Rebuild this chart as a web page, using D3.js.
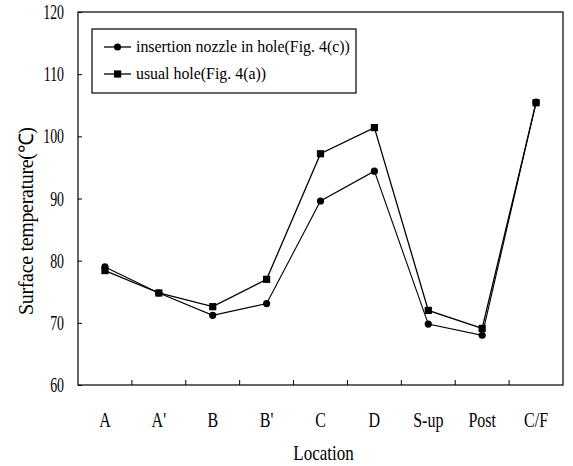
<!DOCTYPE html>
<html><head><meta charset="utf-8">
<script src="https://cdn.jsdelivr.net/npm/d3@7"></script>
<style>body{margin:0;background:#fff}</style>
</head><body>
<svg id="c" width="573" height="466"></svg>
<script>
const categories = ["A","A'","B","B'","C","D","S-up","Post","C/F"];
const insertionNozzle = [79.0,74.8,71.2,73.1,89.6,94.4,69.8,68.0,105.5];
const usualHole = [78.4,74.8,72.6,77.0,97.2,101.4,72.0,69.1,105.4];
const yTicks = [60,70,80,90,100,110,120];
const seriesNames = ["insertion nozzle in hole(Fig. 4(c))","usual hole(Fig. 4(a))"];

const FONT = "Liberation Serif";
const svg = d3.select("#c");
const L=78, R=563, T=12, B=385;
const x = d3.scaleBand().domain(categories).range([L,R]);
const y = d3.scaleLinear().domain([60,120]).range([B,T]);

function txt(g, px, py, s, size, k, anchor){
  return g.append("text").attr("transform",`translate(${px},${py}) scale(${k},1)`)
    .attr("text-anchor",anchor||"start").attr("font-family",FONT).style("font-family",FONT)
    .attr("font-size",size).attr("fill","#000").text(s);
}

// frame
svg.append("rect").attr("x",L).attr("y",T).attr("width",R-L).attr("height",B-T)
  .attr("fill","none").attr("stroke","#000").attr("stroke-width",1.2);

// y ticks (inward)
const yAxis = svg.append("g").attr("transform",`translate(${L},0)`)
  .call(d3.axisLeft(y).tickValues(yTicks).tickSize(-4).tickFormat(""));
yAxis.select(".domain").remove();
yAxis.selectAll("line").attr("stroke","#000");
yTicks.forEach(v=>txt(svg, 64, y(v)+7, String(v), 21, 0.66, "end"));

// x ticks between categories (inward)
const bounds = categories.slice(1).map(c=>x(c));
svg.append("g").selectAll("line").data(bounds).join("line")
  .attr("x1",d=>d).attr("x2",d=>d).attr("y1",B).attr("y2",B-5).attr("stroke","#000");
const cx = d=>x(d)+x.bandwidth()/2;
categories.forEach(c=>txt(svg, cx(c), 427, c, 20, 0.8, "middle"));

txt(svg, (L+R)/2+3, 460, "Location", 20, 0.85, "middle");
svg.append("text").attr("transform",`translate(33,221) rotate(-90)`)
  .attr("text-anchor","middle").attr("font-family",FONT).style("font-family",FONT).attr("font-size",20)
  .attr("textLength",188).attr("lengthAdjust","spacing")
  .text("Surface temperature(℃)");

const line = d3.line().x((d,i)=>cx(categories[i])).y(d=>y(d));
svg.append("path").datum(insertionNozzle).attr("d",line).attr("fill","none").attr("stroke","#000").attr("stroke-width",1.1);
svg.append("path").datum(usualHole).attr("d",line).attr("fill","none").attr("stroke","#000").attr("stroke-width",1.3);
svg.append("g").selectAll("circle").data(insertionNozzle).join("circle")
  .attr("cx",(d,i)=>cx(categories[i])).attr("cy",d=>y(d)).attr("r",3.6).attr("fill","#000");
svg.append("g").selectAll("rect").data(usualHole).join("rect")
  .attr("x",(d,i)=>cx(categories[i])-3.6).attr("y",d=>y(d)-3.6).attr("width",7.2).attr("height",7.2).attr("fill","#000");

// legend
const lg = svg.append("g");
lg.append("rect").attr("x",92).attr("y",29).attr("width",264).attr("height",64)
  .attr("fill","#fff").attr("stroke","#000").attr("stroke-width",1.2);
const rows=[47,74];
const t0 = txt(lg, 136, rows[0]+5, seriesNames[0], 17, 1);
const w0 = t0.node().getComputedTextLength();
const k = 214 / w0;
t0.attr("transform",`translate(136,${rows[0]+5}) scale(${k},1)`);
rows.forEach((ry,i)=>{
  lg.append("line").attr("x1",104).attr("x2",131).attr("y1",ry).attr("y2",ry).attr("stroke","#000").attr("stroke-width",1.3);
  if(i===0) lg.append("circle").attr("cx",117.5).attr("cy",ry).attr("r",3.6).attr("fill","#000");
  else lg.append("rect").attr("x",114).attr("y",ry-3.6).attr("width",7.2).attr("height",7.2).attr("fill","#000");
  if(i===1) txt(lg, 136, ry+5, seriesNames[1], 17, k);
});
</script>
</body></html>
